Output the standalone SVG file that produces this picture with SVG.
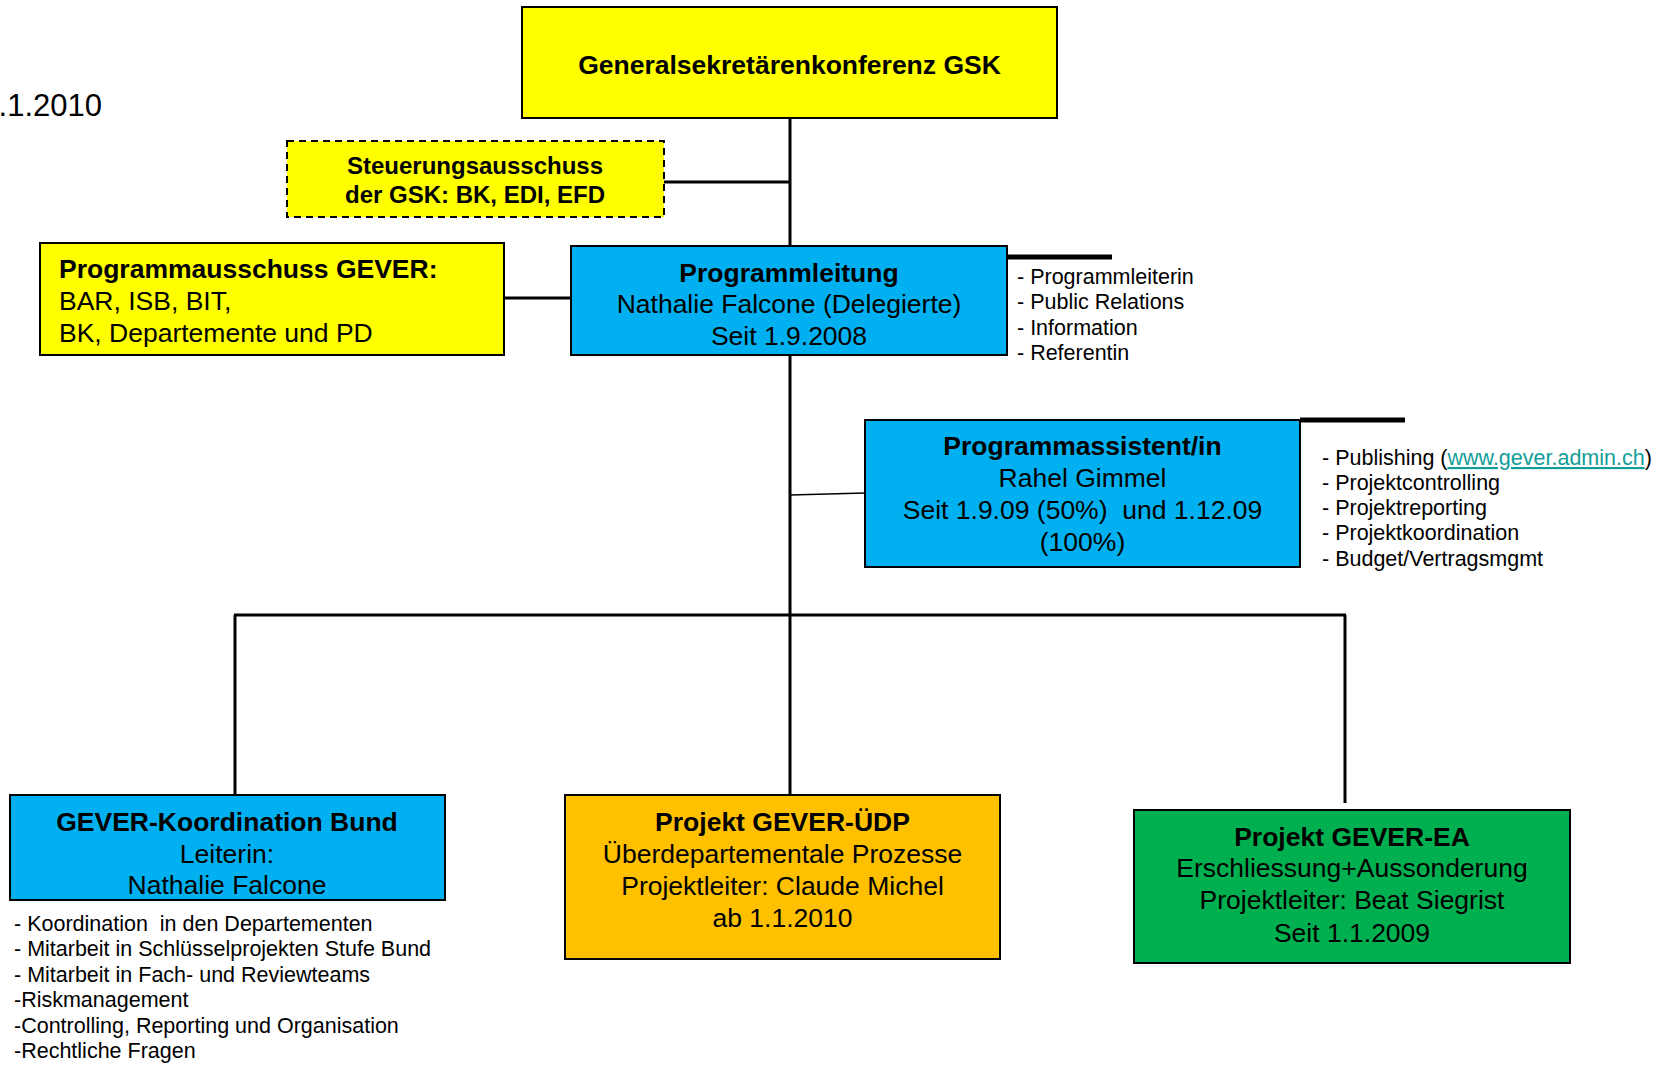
<svg xmlns="http://www.w3.org/2000/svg" width="1656" height="1065" viewBox="0 0 1656 1065">
<style>
  text { font-family: "Liberation Sans", Arial, sans-serif; fill: #000; }
  .h { font-weight: bold; font-size: 26.5px; text-anchor: middle; }
  .r { font-size: 26.5px; text-anchor: middle; }
  .box { stroke: #000; stroke-width: 2; }
  .yellow { fill: #FFFF00; }
  .blue { fill: #00B0F0; }
  .orange { fill: #FFC000; }
  .green { fill: #00B050; }
  .list { font-size: 21.5px; }
  .conn line { stroke: #000; stroke-width: 3; fill: none; }
  .link { fill: #119E9A; text-decoration: underline; }
</style>
<rect width="1656" height="1065" fill="#fff"/>

<text id="date" x="102" y="116" font-size="31" text-anchor="end">.1.2010</text>

<g id="connectors" class="conn">
  <line x1="790" y1="118" x2="790" y2="246"/>
  <line x1="664" y1="182" x2="790" y2="182"/>
  <line x1="504" y1="298" x2="571" y2="298"/>
  <line x1="1007" y1="257" x2="1112" y2="257" style="stroke-width:5"/>
  <line x1="790" y1="355" x2="790" y2="795"/>
  <line x1="790" y1="495" x2="865" y2="493" style="stroke-width:1.6"/>
  <line x1="1300" y1="420" x2="1405" y2="420" style="stroke-width:5"/>
  <line x1="234" y1="615" x2="1346" y2="615"/>
  <line x1="235" y1="615" x2="235" y2="795"/>
  <line x1="1345" y1="615" x2="1345" y2="803"/>
</g>

<g id="gsk">
  <rect class="box yellow" x="522" y="7" width="535" height="111"/>
  <text class="h" x="789.5" y="74">Generalsekretärenkonferenz GSK</text>
</g>

<g id="steuerungsausschuss">
  <rect class="yellow" x="287" y="141" width="377" height="76" stroke="#000" stroke-width="2" stroke-dasharray="7,5"/>
  <text class="h" x="475" y="174" style="font-size:24px">Steuerungsausschuss</text>
  <text class="h" x="475" y="203" style="font-size:24px">der GSK: BK, EDI, EFD</text>
</g>

<g id="programmausschuss">
  <rect class="box yellow" x="40" y="243" width="464" height="112"/>
  <text x="59" y="278" font-size="26.5" font-weight="bold">Programmausschuss GEVER:</text>
  <text x="59" y="310" font-size="26.5">BAR, ISB, BIT,</text>
  <text x="59" y="342" font-size="26.5">BK, Departemente und PD</text>
</g>

<g id="programmleitung">
  <rect class="box blue" x="571" y="246" width="436" height="109"/>
  <text class="h" x="789" y="282">Programmleitung</text>
  <text class="r" x="789" y="313">Nathalie Falcone (Delegierte)</text>
  <text class="r" x="789" y="345">Seit 1.9.2008</text>
</g>

<g id="programmleitung-aufgaben">
  <text class="list" x="1017" y="284">- Programmleiterin</text>
  <text class="list" x="1017" y="309">- Public Relations</text>
  <text class="list" x="1017" y="335">- Information</text>
  <text class="list" x="1017" y="360">- Referentin</text>
</g>

<g id="programmassistent">
  <rect class="box blue" x="865" y="420" width="435" height="147"/>
  <text class="h" x="1082.5" y="455">Programmassistent/in</text>
  <text class="r" x="1082.5" y="487">Rahel Gimmel</text>
  <text class="r" x="1082.5" y="519" xml:space="preserve">Seit 1.9.09 (50%)  und 1.12.09</text>
  <text class="r" x="1082.5" y="551">(100%)</text>
</g>

<g id="programmassistent-aufgaben">
  <text class="list" x="1322" y="465">- Publishing (<tspan class="link">www.gever.admin.ch</tspan>)</text>
  <text class="list" x="1322" y="490">- Projektcontrolling</text>
  <text class="list" x="1322" y="515">- Projektreporting</text>
  <text class="list" x="1322" y="540">- Projektkoordination</text>
  <text class="list" x="1322" y="566">- Budget/Vertragsmgmt</text>
</g>

<g id="koordination-bund">
  <rect class="box blue" x="10" y="795" width="435" height="105"/>
  <text class="h" x="227" y="831">GEVER-Koordination Bund</text>
  <text class="r" x="227" y="863">Leiterin:</text>
  <text class="r" x="227" y="894">Nathalie Falcone</text>
</g>

<g id="koordination-aufgaben">
  <text class="list" x="14" y="931" xml:space="preserve">- Koordination  in den Departementen</text>
  <text class="list" x="14" y="956">- Mitarbeit in Schlüsselprojekten Stufe Bund</text>
  <text class="list" x="14" y="982">- Mitarbeit in Fach- und Reviewteams</text>
  <text class="list" x="14" y="1007">-Riskmanagement</text>
  <text class="list" x="14" y="1033">-Controlling, Reporting und Organisation</text>
  <text class="list" x="14" y="1058">-Rechtliche Fragen</text>
</g>

<g id="projekt-udp">
  <rect class="box orange" x="565" y="795" width="435" height="164"/>
  <text class="h" x="782.5" y="831">Projekt GEVER-ÜDP</text>
  <text class="r" x="782.5" y="863">Überdepartementale Prozesse</text>
  <text class="r" x="782.5" y="895">Projektleiter: Claude Michel</text>
  <text class="r" x="782.5" y="927">ab 1.1.2010</text>
</g>

<g id="projekt-ea">
  <rect class="box green" x="1134" y="810" width="436" height="153"/>
  <text class="h" x="1352" y="846">Projekt GEVER-EA</text>
  <text class="r" x="1352" y="877">Erschliessung+Aussonderung</text>
  <text class="r" x="1352" y="909">Projektleiter: Beat Siegrist</text>
  <text class="r" x="1352" y="942">Seit 1.1.2009</text>
</g>
</svg>
